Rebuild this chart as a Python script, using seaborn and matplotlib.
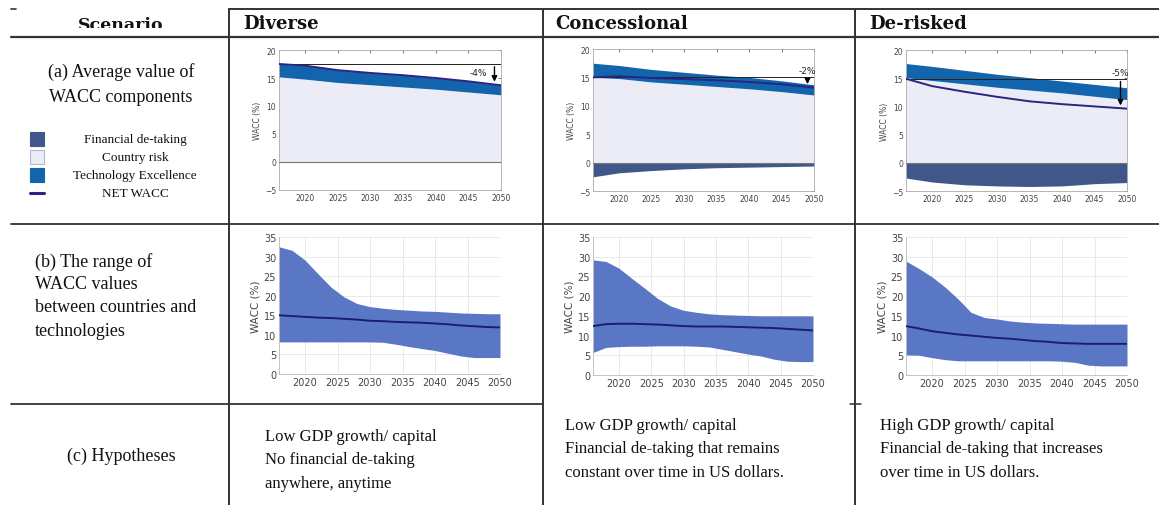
import numpy as np
import pandas as pd
import matplotlib
matplotlib.use("Agg")
import matplotlib.pyplot as plt
from matplotlib.lines import Line2D
from matplotlib.patches import Rectangle
import seaborn as sns

# ---------------- data ----------------
scenarios = ["Diverse", "Concessional", "De-risked"]

# (a) average WACC components, % (stacked: country risk + technology excellence, de-taking below 0)
years_a = [2016, 2020, 2025, 2030, 2035, 2040, 2045, 2050]
country_risk = {
    "Diverse":      [15.2, 14.8, 14.2, 13.8, 13.4, 13.0, 12.5, 12.0],
    "Concessional": [15.0, 14.8, 14.2, 13.8, 13.4, 13.0, 12.5, 11.9],
    "De-risked":    [15.1, 14.6, 14.0, 13.4, 12.9, 12.4, 11.8, 11.2],
}
tech_excellence = {
    "Diverse":      [2.3, 2.4, 2.2, 2.1, 2.1, 2.0, 1.9, 1.7],
    "Concessional": [2.5, 2.3, 2.2, 2.1, 2.0, 2.0, 1.9, 1.8],
    "De-risked":    [2.5, 2.5, 2.4, 2.3, 2.2, 2.1, 2.1, 2.1],
}
financial_detaking = {
    "Diverse":      [0.0, 0.0, 0.0, 0.0, 0.0, 0.0, 0.0, 0.0],
    "Concessional": [-2.5, -1.8, -1.4, -1.1, -0.9, -0.8, -0.7, -0.6],
    "De-risked":    [-2.7, -3.4, -3.9, -4.1, -4.2, -4.1, -3.7, -3.5],
}
net_wacc = {
    "Diverse":      [17.5, 17.2, 16.4, 15.9, 15.5, 15.0, 14.4, 13.7],
    "Concessional": [15.0, 15.2, 14.9, 14.7, 14.5, 14.2, 13.8, 13.2],
    "De-risked":    [14.9, 13.6, 12.6, 11.7, 10.9, 10.4, 10.0, 9.6],
}
change_labels = {"Diverse": "-4%", "Concessional": "-2%", "De-risked": "-5%"}

# (b) range of WACC values between countries and technologies, %
years_b = [2016, 2018, 2020, 2022, 2024, 2026, 2028, 2030, 2032,
           2034, 2036, 2038, 2040, 2042, 2044, 2046, 2048, 2050]
wacc_upper = {
    "Diverse":      [32.5, 31.6, 29.1, 25.6, 22.2, 19.7, 18.0, 17.2, 16.8,
                     16.5, 16.3, 16.1, 16.0, 15.8, 15.6, 15.5, 15.4, 15.4],
    "Concessional": [29.2, 28.8, 27.1, 24.5, 22.0, 19.4, 17.5, 16.4, 15.9,
                     15.5, 15.3, 15.2, 15.1, 15.0, 15.0, 15.0, 15.0, 15.0],
    "De-risked":    [28.9, 27.0, 24.9, 22.3, 19.3, 15.9, 14.6, 14.2, 13.7,
                     13.4, 13.2, 13.1, 13.0, 12.9, 12.9, 12.9, 12.9, 12.9],
}
wacc_lower = {
    "Diverse":      [8.2, 8.2, 8.2, 8.2, 8.2, 8.2, 8.2, 8.2, 8.1,
                     7.6, 7.0, 6.5, 6.0, 5.3, 4.6, 4.2, 4.2, 4.2],
    "Concessional": [5.7, 7.0, 7.2, 7.3, 7.3, 7.4, 7.4, 7.4, 7.3,
                     7.1, 6.5, 5.9, 5.3, 4.8, 4.0, 3.5, 3.4, 3.4],
    "De-risked":    [5.1, 5.0, 4.4, 3.9, 3.6, 3.6, 3.6, 3.6, 3.6,
                     3.6, 3.6, 3.6, 3.5, 3.2, 2.5, 2.3, 2.3, 2.3],
}
wacc_median = {
    "Diverse":      [15.0, 14.8, 14.6, 14.4, 14.3, 14.1, 13.9, 13.6, 13.5,
                     13.3, 13.2, 13.1, 12.9, 12.7, 12.4, 12.2, 12.0, 11.9],
    "Concessional": [12.4, 12.9, 13.0, 13.0, 12.9, 12.8, 12.6, 12.4, 12.3,
                     12.3, 12.3, 12.2, 12.1, 12.0, 11.9, 11.7, 11.5, 11.3],
    "De-risked":    [12.4, 11.8, 11.1, 10.7, 10.3, 10.0, 9.7, 9.4, 9.2,
                     8.9, 8.6, 8.4, 8.1, 8.0, 7.9, 7.9, 7.9, 7.9],
}

hypotheses = {
    "Diverse": ["Low GDP growth/ capital", "No financial de-taking",
                "anywhere, anytime"],
    "Concessional": ["Low GDP growth/ capital", "Financial de-taking that remains",
                     "constant over time in US dollars."],
    "De-risked": ["High GDP growth/ capital", "Financial de-taking that increases",
                  "over time in US dollars."],
}
legend_labels = ["Financial de-taking", "Country risk", "Technology Excellence", "NET WACC"]

# ---------------- styling ----------------
C_DETAKE = "#3f5789"
C_COUNTRY = "#ececf6"
C_TECH = "#1265ad"
C_NET = "#2b2480"
C_RANGE = "#5a77c6"
C_MED = "#1b1f6a"
C_RULE = "#333333"
TICK_C = "#444444"

sns.set_style("white")
plt.rcParams["font.family"] = ["DejaVu Sans"]

W, H = 1159, 506
fig = plt.figure(figsize=(W / 100, H / 100), dpi=100)


def rect(l, t, r, b):
    return [l / W, 1 - b / H, (r - l) / W, (b - t) / H]


def hline(y, x0, x1, lw=1.4, z=5):
    fig.add_artist(Line2D([x0 / W, x1 / W], [1 - y / H, 1 - y / H],
                          color=C_RULE, lw=lw, zorder=z))


def vline(x, y0, y1, lw=1.4, z=5):
    fig.add_artist(Line2D([x / W, x / W], [1 - y0 / H, 1 - y1 / H],
                          color=C_RULE, lw=lw, zorder=z))


def ftext(x, y, s, **kw):
    kw.setdefault("family", "Liberation Serif")
    kw.setdefault("color", "#111111")
    fig.text(x / W, 1 - y / H, s, **kw)


# ---------------- table rules ----------------
hline(10, 229, W)
hline(10, 11, 16, lw=1.2)
hline(38, 11, W, lw=1.6)
hline(225, 11, W, lw=1.3)
hline(405, 11, 543, lw=1.3)
hline(405, 850, 861, lw=1.1)
for xv in (229, 543, 855):
    vline(xv, 10, H)

# header texts ("Scenario" is cut off at its lower edge by the header rule)
ftext(121, 25, "Scenario", ha="center", va="center", fontsize=12.5,
      weight="bold", family="DejaVu Serif", zorder=2)
fig.add_artist(Rectangle((60 / W, 1 - 37 / H), 120 / W, 8.5 / H,
                         transform=fig.transFigure, facecolor="white",
                         edgecolor="none", zorder=3))
head_x = {"Diverse": 243, "Concessional": 555, "De-risked": 869}
for s in scenarios:
    ftext(head_x[s], 24, s, ha="left", va="center", fontsize=13,
          weight="bold", family="DejaVu Serif")

# left column texts
ftext(121, 72, "(a) Average value of", ha="center", va="center", fontsize=13)
ftext(121, 97, "WACC components", ha="center", va="center", fontsize=13)
ftext(35, 262, "(b) The range of", ha="left", va="center", fontsize=13)
ftext(35, 285, "WACC values", ha="left", va="center", fontsize=13)
ftext(35, 308, "between countries and", ha="left", va="center", fontsize=13)
ftext(35, 331, "technologies", ha="left", va="center", fontsize=13)
ftext(121, 456, "(c) Hypotheses", ha="center", va="center", fontsize=13)

# legend for row (a)
leg_y = [140, 158, 176, 194]
leg_fc = [C_DETAKE, C_COUNTRY, C_TECH, None]
for yy, fc, lab in zip(leg_y, leg_fc, legend_labels):
    if fc is not None:
        fig.add_artist(Rectangle((30 / W, 1 - (yy + 7) / H), 14 / W, 14 / H,
                                 transform=fig.transFigure, facecolor=fc,
                                 edgecolor="#b8b8c8" if fc == C_COUNTRY else fc,
                                 lw=0.8))
    else:
        fig.add_artist(Line2D([30 / W, 44 / W], [1 - yy / H, 1 - yy / H],
                              color=C_NET, lw=2.2))
    ftext(135, yy, lab, ha="center", va="center", fontsize=9.5)

# hypotheses texts
hyp_pos = {"Diverse": (265, 437), "Concessional": (565, 426), "De-risked": (880, 426)}
for s in scenarios:
    x0, y0 = hyp_pos[s]
    for i, line in enumerate(hypotheses[s]):
        ftext(x0, y0 + i * 23.5, line, ha="left", va="center", fontsize=12)

# ---------------- row (a): components ----------------
axes_a = {"Diverse": (279, 51, 501, 191), "Concessional": (593, 50, 814, 192),
          "De-risked": (906, 51, 1127, 192)}
for s in scenarios:
    ax = fig.add_axes(rect(*axes_a[s]))
    yrs = np.array(years_a, dtype=float)
    cr = np.array(country_risk[s])
    te = np.array(tech_excellence[s])
    dt = np.array(financial_detaking[s])
    net = np.array(net_wacc[s])
    ax.fill_between(yrs, 0, cr, color=C_COUNTRY, lw=0, zorder=1)
    ax.fill_between(yrs, cr, cr + te, color=C_TECH, lw=0, zorder=2)
    if np.any(dt != 0):
        ax.fill_between(yrs, dt, 0, color=C_DETAKE, lw=0, zorder=2)
    ax.axhline(0, color="#777777", lw=0.8, zorder=3)
    ax.axhline(net[0], color="#222222", lw=0.7, zorder=3)
    sns.lineplot(x=yrs, y=net, ax=ax, color=C_NET, lw=1.4, zorder=4)
    # change arrow from the starting level down to the 2049 level
    end_val = float(np.interp(2049, yrs, net))
    ax.annotate("", xy=(2049, end_val), xytext=(2049, net[0]),
                arrowprops=dict(arrowstyle="-|>", color="black", lw=1.0,
                                mutation_scale=8), zorder=5)
    if s == "Diverse":
        ax.text(2047.8, (net[0] + end_val) / 2 + 0.3, change_labels[s],
                ha="right", va="center", fontsize=6.5, color="#222222")
    else:
        ax.text(2049, net[0] + 0.4, change_labels[s], ha="center",
                va="bottom", fontsize=6.5, color="#222222")
    ax.set_xlim(2016, 2050)
    ax.set_ylim(-5, 20)
    ax.set_xticks([2020, 2025, 2030, 2035, 2040, 2045, 2050])
    ax.set_yticks([-5, 0, 5, 10, 15, 20])
    ax.tick_params(axis="both", direction="in", length=2, width=0.5,
                   labelsize=5.5, colors=TICK_C, top=True, right=True, pad=2)
    ax.set_ylabel("WACC (%)", fontsize=5.5, color=TICK_C, labelpad=2)
    ax.set_xlabel("")
    for sp in ax.spines.values():
        sp.set_color("#aaaaaa")
        sp.set_linewidth(0.6)
    ax.set_facecolor("white")

# ---------------- row (b): ranges ----------------
axes_b = {"Diverse": (279, 238, 500, 375), "Concessional": (593, 238, 813, 376),
          "De-risked": (906, 238, 1127, 376)}
for s in scenarios:
    ax = fig.add_axes(rect(*axes_b[s]))
    yrs = np.array(years_b, dtype=float)
    ax.fill_between(yrs, wacc_lower[s], wacc_upper[s], color=C_RANGE,
                    lw=0, zorder=2)
    sns.lineplot(x=yrs, y=wacc_median[s], ax=ax, color=C_MED, lw=1.4, zorder=3)
    ax.set_xlim(2016, 2050)
    ax.set_ylim(0, 35)
    ax.set_xticks([2020, 2025, 2030, 2035, 2040, 2045, 2050])
    ax.set_yticks([0, 5, 10, 15, 20, 25, 30, 35])
    ax.grid(True, color="#e6e6e6", lw=0.6, zorder=0)
    ax.set_axisbelow(True)
    ax.tick_params(axis="both", direction="in", length=2, width=0.5,
                   labelsize=7, colors=TICK_C, pad=2)
    ax.set_ylabel("WACC (%)", fontsize=7.5, color=TICK_C, labelpad=2)
    ax.set_xlabel("")
    for k in ("top", "right"):
        ax.spines[k].set_visible(False)
    for k in ("left", "bottom"):
        ax.spines[k].set_color("#bbbbbb")
        ax.spines[k].set_linewidth(0.6)

fig.savefig("out.png", dpi=100, facecolor="white")
